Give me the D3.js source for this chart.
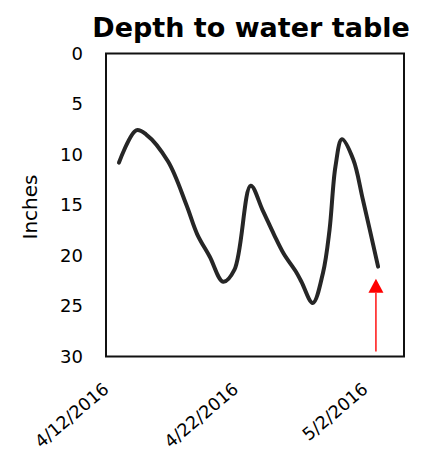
<!DOCTYPE html>
<html>
<head>
<meta charset="utf-8">
<script src="https://cdn.jsdelivr.net/npm/d3@7"></script>
<style>
  html, body { margin: 0; padding: 0; background: #fff; }
  svg { display: block; }
  text { font-family: "DejaVu Sans", "Liberation Sans", sans-serif; fill: #000; }
</style>
</head>
<body>
<script>
// ---- data ----
const title = "Depth to water table";
const yLabel = "Inches";
const times = [
  "2016-04-12 00:00", "2016-04-13 08:00", "2016-04-14 02:00", "2016-04-15 19:00",
  "2016-04-17 05:00", "2016-04-18 01:00", "2016-04-19 00:00",
  "2016-04-20 01:00", "2016-04-20 22:00", "2016-04-22 04:00",
  "2016-04-23 02:00", "2016-04-23 23:00", "2016-04-24 17:00", "2016-04-25 17:00",
  "2016-04-26 02:00", "2016-04-26 23:00", "2016-04-27 18:00", "2016-04-28 06:00",
  "2016-04-28 17:00", "2016-04-29 05:00", "2016-04-30 02:00", "2016-04-30 20:00",
  "2016-05-02 00:00"
];
const depth = [
  10.8, 7.6, 8.0, 10.7,
  15.0, 17.9, 20.1,
  22.6, 21.4, 13.1,
  15.5, 17.9, 19.8, 21.7,
  22.6, 24.7, 21.7, 17.5,
  11.2, 8.5, 10.5, 14.5,
  21.1
];
const xDomain = ["2016-04-11 00:00", "2016-05-04 00:00"];
const xTickDates = ["2016-04-12 00:00", "2016-04-22 00:00", "2016-05-02 00:00"];
const yDomain = [0, 30];
const yTicks = [0, 5, 10, 15, 20, 25, 30];
// red arrow annotation (date, from depth, to depth)
const arrowTime = ["2016-05-01 20:00"];
const arrowFrom = [29.5];
const arrowTo = [22.3];

// ---- chart ----
const W = 422, H = 451;
const parse = d3.timeParse("%Y-%m-%d %H:%M");
const fmt = d3.timeFormat("%-m/%-d/%Y");
const plot = { left: 106, right: 404, top: 53.5, bottom: 356.5 };

const svg = d3.select("body").append("svg").attr("width", W).attr("height", H);

const x = d3.scaleTime().domain(xDomain.map(parse)).range([plot.left, plot.right]);
const y = d3.scaleLinear().domain(yDomain).range([plot.top, plot.bottom]);

// title
svg.append("text")
  .attr("x", 251).attr("y", 37)
  .attr("text-anchor", "middle")
  .style("font-size", "27px").style("font-weight", "bold")
  .text(title);

// y label
svg.append("text")
  .attr("transform", "translate(37,207) rotate(-90)")
  .attr("text-anchor", "middle")
  .style("font-size", "20px")
  .text(yLabel);

// y axis labels
const yAxis = d3.axisLeft(y).tickValues(yTicks).tickSize(0).tickPadding(23);
const gy = svg.append("g").attr("transform", `translate(${plot.left},0)`).call(yAxis);
gy.select(".domain").remove();
gy.selectAll("text").style("font-size", "18px")
  .style("font-family", "DejaVu Sans, sans-serif").attr("fill", "#000");

// x axis labels (rotated)
const xTicks = xTickDates.map(parse);
svg.append("g").selectAll("text").data(xTicks).join("text")
  .attr("transform", d => `translate(${x(d) - 9},391) rotate(-40)`)
  .attr("text-anchor", "end")
  .style("font-size", "17.5px")
  .text(d => fmt(d));

// plot frame
svg.append("rect")
  .attr("x", plot.left).attr("y", plot.top)
  .attr("width", plot.right - plot.left).attr("height", plot.bottom - plot.top)
  .attr("fill", "none").attr("stroke", "#111").attr("stroke-width", 2);

// series line
const pts = times.map((t, i) => ({ t: parse(t), v: depth[i] }));
const line = d3.line().x(d => x(d.t)).y(d => y(d.v)).curve(d3.curveCatmullRom.alpha(0.5));
svg.append("path").datum(pts)
  .attr("d", line)
  .attr("fill", "none").attr("stroke", "#262626")
  .attr("stroke-width", 4).attr("stroke-linecap", "round").attr("stroke-linejoin", "round");

// red arrow
const ax = x(parse(arrowTime[0]));
const yFrom = y(arrowFrom[0]), yTip = y(arrowTo[0]);
const headLen = 14, headHalf = 7.5;
svg.append("line")
  .attr("x1", ax).attr("x2", ax)
  .attr("y1", yFrom).attr("y2", yTip + headLen)
  .attr("stroke", "#ff0000").attr("stroke-width", 1.4);
svg.append("path")
  .attr("d", `M${ax},${yTip} L${ax + headHalf},${yTip + headLen} L${ax - headHalf},${yTip + headLen} Z`)
  .attr("fill", "#ff0000");
</script>
</body>
</html>
